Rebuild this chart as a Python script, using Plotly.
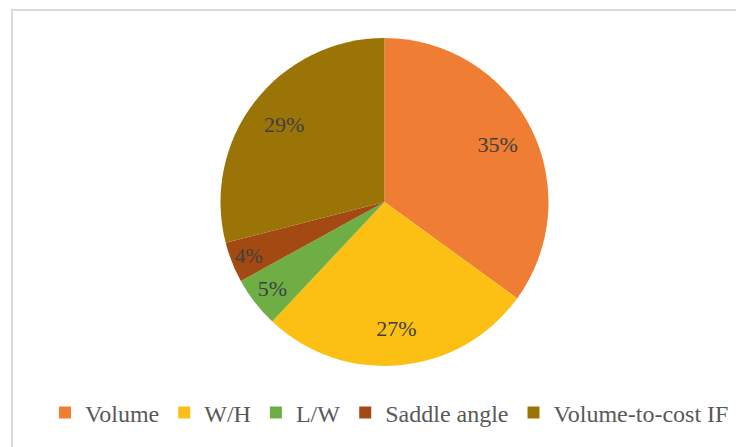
import plotly.graph_objects as go

categories = ["Volume", "W/H", "L/W", "Saddle angle", "Volume-to-cost IF"]
shares = [35, 27, 5, 4, 29]
colors = ["#EF7E34", "#FCC014", "#6FAE45", "#A24A12", "#9B7408"]

W, H = 744, 447
OFF = 8  # page body margin offset
SERIF = "Liberation Serif, Times New Roman, Tinos, DejaVu Serif, serif"

dom = dict(x=[(220.5 - OFF) / W, (548.5 - OFF) / W],
           y=[1 - (366 - OFF) / H, 1 - (38 - OFF) / H])

fig = go.Figure()
# filled slices
fig.add_trace(go.Pie(
    labels=categories,
    values=shares,
    sort=False,
    direction="clockwise",
    rotation=0,
    marker=dict(colors=colors, line=dict(width=0)),
    textinfo="none",
    domain=dom,
    hoverinfo="label+percent",
    showlegend=True,
))
# data labels, placed in an outer ring
fig.add_trace(go.Pie(
    labels=categories,
    values=shares,
    sort=False,
    direction="clockwise",
    rotation=0,
    hole=0.55,
    marker=dict(colors=["rgba(0,0,0,0)"] * len(categories), line=dict(width=0)),
    texttemplate="%{percent:.0%}",
    textposition="inside",
    insidetextorientation="horizontal",
    textfont=dict(family=SERIF, size=22, color="#404040"),
    domain=dom,
    hoverinfo="skip",
    showlegend=False,
))

fig.update_layout(
    width=W, height=H,
    margin=dict(l=0, r=0, t=0, b=0),
    paper_bgcolor="white",
    plot_bgcolor="white",
    font=dict(family=SERIF),
    legend=dict(
        orientation="h",
        x=(389.5 - OFF) / W, xanchor="center",
        y=1 - (413 - OFF) / H, yanchor="middle",
        font=dict(family=SERIF, size=24, color="#595959"),
        itemwidth=30,
        traceorder="normal",
    ),
    shapes=[
        dict(type="line", xref="paper", yref="paper",
             x0=(11 - OFF) / W, x1=1.02, y0=1 - (10 - OFF) / H, y1=1 - (10 - OFF) / H,
             line=dict(color="#D9D9D9", width=2)),
        dict(type="line", xref="paper", yref="paper",
             x0=(12 - OFF) / W, x1=(12 - OFF) / W, y0=1 - (10 - OFF) / H, y1=-0.03,
             line=dict(color="#D9D9D9", width=2)),
    ],
)

fig.write_html("out.html")
